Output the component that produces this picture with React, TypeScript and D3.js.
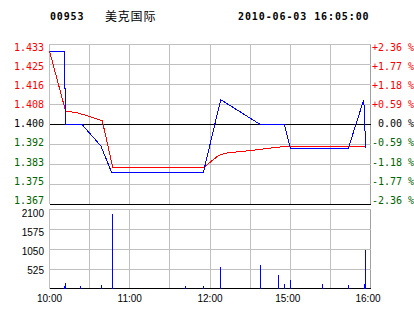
import React from 'react';
import * as d3 from 'd3';

const stockCode = '00953';
const stockName = '美克国际';
const stamp = '2010-06-03 16:05:00';
const prevClose = 1.4;

const priceTicks = ['1.433', '1.425', '1.416', '1.408', '1.400', '1.392', '1.383', '1.375', '1.367'];
const pctTicks = ['+2.36 %', '+1.77 %', '+1.18 %', '+0.59 %', '0.00 %', '-0.59 %', '-1.18 %', '-1.77 %', '-2.36 %'];
const volTicks = ['2100', '1575', '1050', '525'];
const timeLabelMinutes = [0, 60, 120, 180, 240];
const timeLabelText = ['10:00', '11:00', '12:00', '15:00', '16:00'];

const priceMinutes = [0, 11, 11, 12, 12, 24, 38.5, 46.5, 115, 128, 157, 175.5, 180, 223.4, 235, 236.4];
const priceValues = [1.433, 1.433, 1.416, 1.416, 1.4, 1.4, 1.39, 1.378, 1.378, 1.411, 1.4, 1.4, 1.389, 1.389, 1.411, 1.389];

const avgMinutes = [0, 12, 20.3, 29, 37.8, 39.5, 47.3, 115, 126.2, 131.2, 148.6, 173.6, 236.4];
const avgValues = [1.433, 1.4059, 1.4051, 1.4036, 1.4018, 1.4014, 1.3802, 1.3802, 1.3857, 1.3868, 1.3879, 1.3897, 1.3897];

const volMinutes = [11.4, 12.1, 23, 38.7, 47.3, 101.5, 115.3, 127.7, 157.6, 171, 175.5, 180, 204, 223.4, 235.4, 236.4];
const volValues = [53, 133, 60, 90, 1960, 60, 53, 556, 609, 344, 106, 212, 106, 80, 106, 1006];

export default function App() {
  const W = 414, H = 314;
  const x = d3.scaleLinear().domain([0, 240]).range([49.5, 370.5]);
  const y = d3.scaleLinear().domain([1.367, 1.433]).range([197, 51]);
  const gridY = d3.scaleLinear().domain([0, 8]).range([44, 204]);
  const labelY = d3.scaleLinear().domain([0, 8]).range([47.7, 200]);
  const vy = d3.scaleLinear().domain([0, 2100]).range([288.5, 209]);
  const vGridY = d3.scaleLinear().domain([0, 4]).range([209, 289]);
  const vLabelY = d3.scaleLinear().domain([0, 3]).range([213.3, 270]);

  const gridMinutes = d3.range(0, 241, 30);
  const snap = (v: number) => Math.round(v - 0.5) + 0.5;

  const priceLine = d3.line<number>()
    .x((_, i) => x(priceMinutes[i]))
    .y((d) => y(d))(priceValues) || '';
  const avgLine = d3.line<number>()
    .x((_, i) => x(avgMinutes[i]))
    .y((d) => y(d))(avgValues) || '';

  const green = '#006400';
  const grid = '#c0c0c0';
  const monoFont = '"DejaVu Sans Mono", monospace';
  const sansFont = '"Liberation Sans", Arial, sans-serif';

  const labelColor = (i: number) => (i < 4 ? '#ff0000' : i === 4 ? '#000000' : green);

  return (
    <div style={{ position: 'fixed', left: 0, top: 0, width: W, height: H, background: '#fff' }}>
      <svg width={W} height={H} style={{ display: 'block' }}>
        <rect x={0} y={0} width={W} height={H} fill="#fff" />
        {/* header */}
        <text x={50} y={20} fontFamily={monoFont} fontWeight="bold" fontSize={10} letterSpacing={0.85} fill="#000">{stockCode}</text>
        <text x={105} y={21} fontFamily='"Noto Sans CJK SC", sans-serif' fontSize={12} letterSpacing={0.8} fill="#000">{stockName}</text>
        <text x={238} y={20} fontFamily={monoFont} fontWeight="bold" fontSize={10} letterSpacing={0.9} fill="#000">{stamp}</text>

        {/* price grid */}
        <g shapeRendering="crispEdges">
          {gridMinutes.map((m) => (
            <line key={'pv' + m} x1={snap(x(m))} x2={snap(x(m))} y1={44} y2={204} stroke={m === 240 ? '#a0a0a0' : grid} />
          ))}
          {d3.range(0, 9).map((i) => (
            <line key={'ph' + i} x1={49.5} x2={370.5} y1={gridY(i) + 0.5} y2={gridY(i) + 0.5}
              stroke={i === 8 ? '#000' : grid} />
          ))}
          <line x1={49.5} x2={370.5} y1={Math.round(y(prevClose)) + 0.5} y2={Math.round(y(prevClose)) + 0.5} stroke="#000" />
        </g>

        {/* lines */}
        <path d={avgLine} fill="none" stroke="#ff0000" strokeWidth={1} shapeRendering="crispEdges" />
        <path d={priceLine} fill="none" stroke="#0000ff" strokeWidth={1} shapeRendering="crispEdges" />

        {/* price labels */}
        {priceTicks.map((t, i) => (
          <text key={'pl' + i} x={44} y={labelY(i)} dy="0.36em" textAnchor="end" fontFamily={monoFont} fontSize={10} fill={labelColor(i)}>{t}</text>
        ))}
        {pctTicks.map((t, i) => (
          <text key={'pr' + i} x={i === 4 ? 378 : 372} y={labelY(i)} dy="0.36em" textAnchor="start" fontFamily={monoFont} fontSize={10}
            fill={labelColor(i)} style={{ whiteSpace: 'pre' }}>{t}</text>
        ))}

        {/* volume grid */}
        <g shapeRendering="crispEdges">
          {gridMinutes.map((m) => (
            <line key={'vv' + m} x1={snap(x(m))} x2={snap(x(m))} y1={209} y2={289} stroke={m === 240 ? '#a0a0a0' : grid} />
          ))}
          {d3.range(0, 5).map((i) => (
            <line key={'vh' + i} x1={49.5} x2={370.5} y1={vGridY(i) - (i === 4 ? 0.5 : -0.5)} y2={vGridY(i) - (i === 4 ? 0.5 : -0.5)}
              stroke={i === 4 ? '#000' : grid} />
          ))}
          {volValues.map((v, i) => (
            <rect key={'vb' + i} x={Math.floor(x(volMinutes[i]))} y={vy(v)} width={1} height={288.5 - vy(v)} fill="#0000ff" />
          ))}
        </g>

        {volTicks.map((t, i) => (
          <text key={'vl' + i} x={44} y={vLabelY(i)} dy="0.36em" textAnchor="end" fontFamily={sansFont} fontSize={10} fill="#000">{t}</text>
        ))}

        {timeLabelMinutes.map((m, i) => (
          <text key={'tl' + i} x={x(m) - (i >= 3 ? 2.5 : 0)} y={301.5} textAnchor="middle" fontFamily={sansFont} fontSize={10} fill="#000">{timeLabelText[i]}</text>
        ))}
      </svg>
    </div>
  );
}
